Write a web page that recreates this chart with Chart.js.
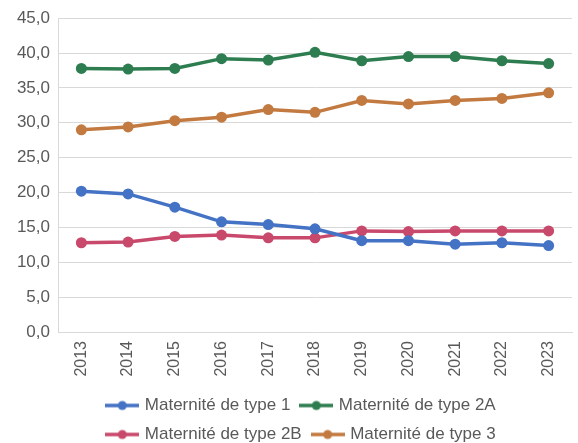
<!DOCTYPE html>
<html>
<head>
<meta charset="utf-8">
<script src="https://cdn.jsdelivr.net/npm/chart.js@4"></script>
<style>
  html, body { margin: 0; padding: 0; background: #fff; }
  #wrap { width: 578px; height: 443px; }
</style>
</head>
<body>
<div id="wrap"><canvas id="chart" width="578" height="443"></canvas></div>
<script>
// données
const years = ["2013", "2014", "2015", "2016", "2017", "2018", "2019", "2020", "2021", "2022", "2023"];
const type1 = [20.2, 19.8, 17.9, 15.8, 15.4, 14.8, 13.1, 13.1, 12.6, 12.8, 12.4];
const type2A = [37.8, 37.7, 37.8, 39.2, 39.0, 40.1, 38.9, 39.5, 39.5, 38.9, 38.5];
const type2B = [12.8, 12.9, 13.7, 13.9, 13.5, 13.5, 14.5, 14.4, 14.5, 14.5, 14.5];
const type3 = [29.0, 29.4, 30.3, 30.8, 31.9, 31.5, 33.2, 32.7, 33.2, 33.5, 34.3];
const seriesNames = ["Maternité de type 1", "Maternité de type 2A", "Maternité de type 2B", "Maternité de type 3"];
const colors = ["#4472C4", "#2E7D50", "#C8496B", "#C27A40"];

const fontFamily = "'Liberation Sans', Arial, sans-serif";

// petite icône ligne + point pour la légende
function legendIcon(color) {
  const c = document.createElement("canvas");
  c.width = 34;
  c.height = 12;
  const g = c.getContext("2d");
  g.strokeStyle = color;
  g.lineWidth = 3.5;
  g.beginPath();
  g.moveTo(0, 6);
  g.lineTo(34, 6);
  g.stroke();
  g.fillStyle = color;
  g.beginPath();
  g.arc(17, 6, 4.5, 0, Math.PI * 2);
  g.fill();
  return c;
}

function makeDataset(label, data, color) {
  return {
    label: label,
    data: data,
    borderColor: color,
    backgroundColor: color,
    borderWidth: 3.5,
    pointRadius: 5.5,
    pointHoverRadius: 6,
    pointBorderWidth: 0,
    tension: 0,
    fill: false
  };
}

// décale la légende un peu vers la droite comme dans Excel
const legendShift = {
  id: "legendShift",
  afterLayout(chart) {
    chart.legend.left += 11;
    chart.legend.right += 11;
  }
};

const ctx = document.getElementById("chart").getContext("2d");
new Chart(ctx, {
  type: "line",
  data: {
    labels: years,
    datasets: [
      makeDataset(seriesNames[0], type1, colors[0]),
      makeDataset(seriesNames[1], type2A, colors[1]),
      makeDataset(seriesNames[2], type2B, colors[2]),
      makeDataset(seriesNames[3], type3, colors[3])
    ]
  },
  plugins: [legendShift],
  options: {
    responsive: false,
    animation: false,
    devicePixelRatio: 1,
    layout: { padding: { top: 9, left: 4, right: 0, bottom: -10 } },
    scales: {
      x: {
        offset: true,
        grid: { display: false, drawTicks: false },
        border: { display: true, color: "#D9D9D9" },
        afterFit: s => { s.height = 53; },
        ticks: {
          color: "#595959",
          font: { family: fontFamily, size: 16 },
          minRotation: 90,
          maxRotation: 90,
          padding: 9
        }
      },
      y: {
        min: 0,
        max: 45,
        grid: { color: "#D9D9D9", drawTicks: false },
        border: { display: true, color: "#D9D9D9" },
        afterFit: s => { s.width = 54; },
        ticks: {
          stepSize: 5,
          color: "#595959",
          font: { family: fontFamily, size: 17 },
          padding: 8,
          callback: v => v.toFixed(1).replace(".", ",")
        }
      }
    },
    plugins: {
      legend: {
        position: "bottom",
        labels: {
          color: "#595959",
          font: { family: fontFamily, size: 17 },
          usePointStyle: true,
          pointStyleWidth: 28,
          boxHeight: 12,
          padding: 12,
          generateLabels: function (chart) {
            return chart.data.datasets.map((ds, i) => ({
              text: ds.label,
              fillStyle: ds.borderColor,
              strokeStyle: ds.borderColor,
              fontColor: "#595959",
              lineWidth: 0,
              pointStyle: legendIcon(ds.borderColor),
              hidden: !chart.isDatasetVisible(i),
              datasetIndex: i
            }));
          }
        }
      },
      tooltip: { enabled: true }
    }
  }
});
</script>
</body>
</html>
